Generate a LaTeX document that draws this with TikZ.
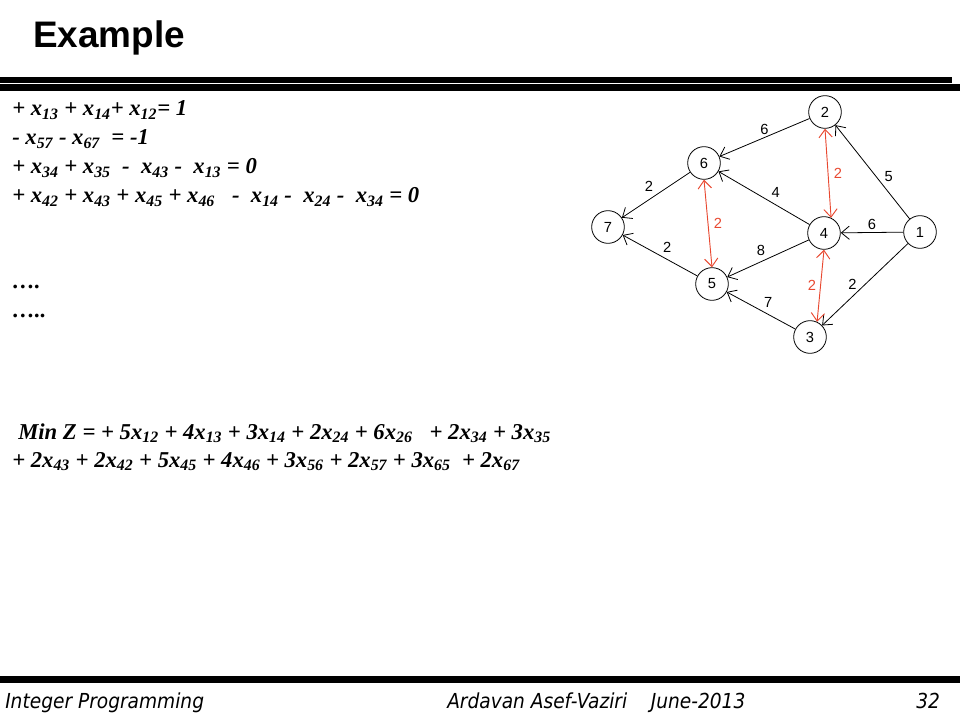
\documentclass[tikz,border=0pt]{standalone}
\usepackage{fontspec}
\setmainfont{Liberation Serif}
\newfontfamily\arialfont{Liberation Sans}
\newfontfamily\footfont{DejaVu Sans Condensed}
\usetikzlibrary{arrows.meta}
\definecolor{flowred}{RGB}{232,72,48}
\newcommand{\xv}[1]{x\textsubscript{#1}}

\begin{document}
\begin{tikzpicture}[x=0.75pt,y=-0.75pt,
    vtx/.style={circle,draw,line width=0.6pt,minimum size=24.5pt,inner sep=0pt,
      font=\arialfont\fontsize{11}{12}\selectfont},
    arc/.style={draw,line width=0.6pt,-{Straight Barb[length=6pt,width=10pt]}},
    back/.style={draw,line width=0.7pt,flowred,
      {Straight Barb[length=6pt,width=10pt]}-{Straight Barb[length=6pt,width=10pt]}},
    wt/.style={font=\arialfont\fontsize{11}{12}\selectfont,inner sep=2pt},
    eq/.style={anchor=base west,inner sep=0pt,font=\bfseries\itshape\fontsize{17}{20}\selectfont},
    foot/.style={anchor=base west,inner sep=0pt,font=\footfont\itshape\fontsize{15.5}{17}\selectfont}]

  \useasboundingbox (0,0) rectangle (960,720);

  % title and rules
  \node[anchor=base west,inner sep=0pt,font=\arialfont\bfseries\fontsize{27.7}{30}\selectfont] (title) at (33,48) {Example};
  \fill (0,77) rectangle (952,83);
  \fill (0,84) rectangle (960,91);
  \fill (0,676) rectangle (960,683);

  % constraints
  \node[eq] (c1) at (12,116) {+ \xv{13} + \xv{14}+ \xv{12}= 1};
  \node[eq] (c2) at (12,145) {- \xv{57} - \xv{67}\ \ = -1};
  \node[eq] (c3) at (12,174) {+ \xv{34} + \xv{35}\ \ -\ \ \xv{43} -\ \ \xv{13} = 0};
  \node[eq] (c4) at (12,203) {+ \xv{42} + \xv{43} + \xv{45} + \xv{46}\ \ \ -\ \ \xv{14} -\ \ \xv{24} -\ \ \xv{34}\ = 0};
  \node[eq] (d1) at (12,288) {….};
  \node[eq] (d2) at (12,317) {…..};

  % objective
  \node[eq] (obj1) at (18,439) {Min Z = + 5\xv{12} + 4\xv{13} + 3\xv{14} + 2\xv{24} + 6\xv{26}\ \ \ + 2\xv{34} + 3\xv{35}};
  \node[eq] (obj2) at (12,467) {+ 2\xv{43} + 2\xv{42} + 5\xv{45} + 4\xv{46} + 3\xv{56} + 2\xv{57} + 3\xv{65}\ \ + 2\xv{67}};

  % the network
  \node[vtx] (n1) at (920,232) {1};
  \node[vtx] (n2) at (825,112) {2};
  \node[vtx] (n3) at (810,337) {3};
  \node[vtx] (n4) at (824,233) {4};
  \node[vtx] (n5) at (712,284) {5};
  \node[vtx] (n6) at (704,163) {6};
  \node[vtx] (n7) at (608,227) {7};

  \path[arc] (n2) -- node[wt,above] {6} (n6);
  \path[arc] (n6) -- node[wt,above left] {2} (n7);
  \path[arc] (n4) -- node[wt,above right,pos=.45] {4} (n6);
  \path[arc] (n1) -- node[wt,right=4pt,pos=.45] {5} (n2);
  \path[arc] (n1) -- node[wt,above] {6} (n4);
  \path[arc] (n4) -- node[wt,above left] {8} (n5);
  \path[arc] (n5) -- node[wt,above right] {2} (n7);
  \path[arc] (n1) -- node[wt,left=4pt] {2} (n3);
  \path[arc] (n3) -- node[wt,above right] {7} (n5);

  % the red pairs
  \path[back] (n2.south) -- node[wt,right=2pt] {2} (n4.65);
  \path[back] (n6.south) -- node[wt,right=2pt] {2} (n5.north);
  \path[back] (n4.south) -- node[wt,left=1pt] {2} (n3.65);

  % footer
  \node[foot] (f1) at (5,708) {Integer Programming};
  \node[foot] (f2) at (447,708) {Ardavan Asef-Vaziri\ \ \ \ June-2013};
  \node[foot] (f3) at (916,708) {32};
\end{tikzpicture}
\end{document}
